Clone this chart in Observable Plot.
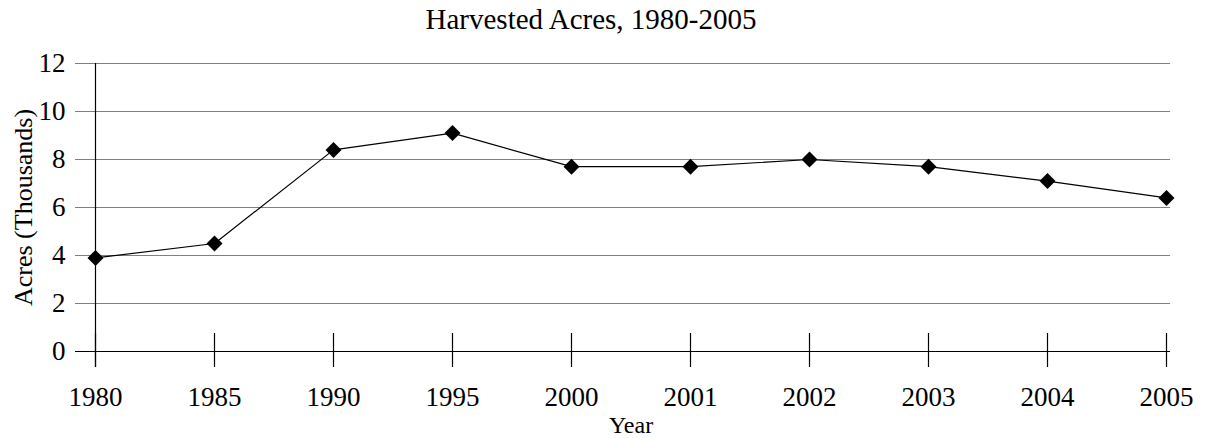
<!DOCTYPE html>
<html>
<head>
<meta charset="utf-8">
<script src="https://cdn.jsdelivr.net/npm/d3@7"></script>
<script src="https://cdn.jsdelivr.net/npm/@observablehq/plot@0.6"></script>
<style>
  html, body { margin: 0; padding: 0; background: #fff; }
  #title { width: 1182px; height: 38px; text-align: center; font-family: "Liberation Serif", "Times New Roman", serif; font-size: 29px; line-height: 36px; padding-top: 1px; box-sizing: border-box; color: #000; }
  svg { display: block; }
  svg text { font-family: "Liberation Serif", "Times New Roman", serif !important; }
</style>
</head>
<body>
<div id="title">Harvested Acres, 1980-2005</div>
<div id="chart"></div>
<script>
const years = ["1980", "1985", "1990", "1995", "2000", "2001", "2002", "2003", "2004", "2005"];
const acres = [3.9, 4.5, 8.4, 9.1, 7.7, 7.7, 8.0, 7.7, 7.1, 6.4];
const yTicks = [0, 2, 4, 6, 8, 10, 12];
const gridTicks = [2, 4, 6, 8, 10, 12];

const data = years.map((y, i) => ({year: y, value: acres[i]}));
const serif = "'Liberation Serif', 'Times New Roman', serif";

const chart = Plot.plot({
  width: 1207,
  height: 400,
  marginLeft: 91,
  marginRight: 37,
  marginTop: 25,
  marginBottom: 87,
  style: {fontFamily: serif, fontSize: "27px", color: "#000", background: "#fff"},
  x: {type: "point", domain: years, padding: 0},
  y: {domain: [0, 12]},
  marks: [
    Plot.ruleY(gridTicks, {stroke: "#808080", strokeWidth: 1.2, insetLeft: -16}),
    Plot.ruleY([0], {stroke: "#000", strokeWidth: 1.2, insetLeft: -16}),
    Plot.ruleX([years[0]], {stroke: "#000", strokeWidth: 1.2, insetBottom: -16}),
    Plot.ruleX(years, {x: d => d, y1: 0, y2: 0, insetTop: -18, insetBottom: -16, stroke: "#000", strokeWidth: 1.2}),
    Plot.axisY(yTicks, {tickSize: 0, tickPadding: 26, fontSize: 27, fontFamily: serif, label: null}),
    Plot.axisY({ticks: [], label: "Acres (Thousands)", labelArrow: false, labelAnchor: "center", labelOffset: 78, fontSize: 26, fontFamily: serif}),
    Plot.axisX(years, {tickSize: 0, tickPadding: 35, fontSize: 27, fontFamily: serif, label: null}),
    Plot.axisX({ticks: [], label: "Year", labelArrow: false, labelAnchor: "center", labelOffset: 81, fontSize: 24, fontFamily: serif}),
    Plot.line(data, {x: "year", y: "value", stroke: "#000", strokeWidth: 1.2}),
    Plot.dot(data, {x: "year", y: "value", symbol: "diamond2", r: 7.2, fill: "#000", stroke: "none"})
  ]
});
document.getElementById("chart").appendChild(chart);
</script>
</body>
</html>
